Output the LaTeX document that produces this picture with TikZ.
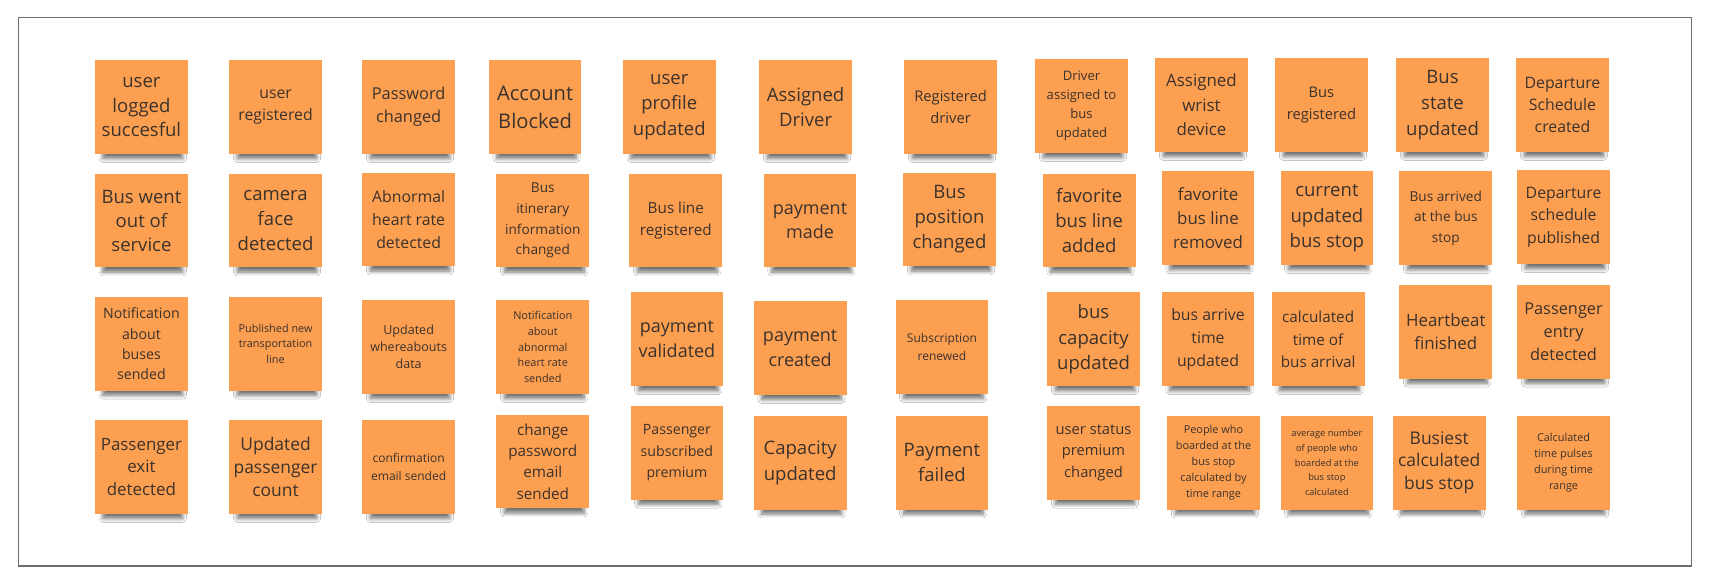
\documentclass[tikz,border=0pt]{standalone}
\usepackage{fontspec}
\setmainfont{Open Sans}
\usetikzlibrary{shadows.blur}
\definecolor{sticky}{RGB}{253,159,80}
\definecolor{stext}{RGB}{58,50,44}
\definecolor{framec}{RGB}{110,110,110}
\tikzset{
  note/.style={anchor=north west, fill=sticky, minimum width=85pt, minimum height=86pt,
    inner sep=1pt, align=center, text=stext,
    blur shadow={shadow xshift=1.5pt, shadow yshift=-12pt, shadow scale=0.86,
      shadow blur radius=4pt, shadow blur steps=8, shadow opacity=55}},
  fz/.style 2 args={font=\fontsize{#1}{#2}\selectfont},
}
\begin{document}
\begin{tikzpicture}[x=1pt,y=-1pt]
\fill[white] (0,0) rectangle (1568,536);
\useasboundingbox (0,0) rectangle (1568,536);
\draw[framec, line width=1.3pt] (17,16) rectangle (1551,519);
% Row 1
\node[note, fz={17}{22.5}] (n11) at (87,55) {user\\logged\\succesful};
\node[note, fz={14.5}{20}] (n12) at (210,55) {user\\registered};
\node[note, fz={15}{21}] (n13) at (332,55) {Password\\changed};
\node[note, fz={18.5}{26}] (n14) at (448,55) {Account\\Blocked};
\node[note, fz={17}{23}] (n15) at (571,55) {user\\profile\\updated};
\node[note, fz={17}{23}] (n16) at (696,55) {Assigned\\Driver};
\node[note, fz={13.5}{20}] (n17) at (829,55) {Registered\\driver};
\node[note, fz={12}{17.5}] (n18) at (949,54) {Driver\\assigned to\\bus\\updated};
\node[note, fz={15.5}{22.5}] (n19) at (1059,53) {Assigned\\wrist\\device};
\node[note, fz={13.5}{20}] (n110) at (1169,53) {Bus\\registered};
\node[note, fz={17}{24}] (n111) at (1280,53) {Bus\\state\\updated};
\node[note, fz={14.5}{20.5}] (n112) at (1390,53) {Departure\\Schedule\\created};
% Row 2
\node[note, fz={17}{22}] (n21) at (87,159) {Bus went\\out of\\service};
\node[note, fz={17}{22.5}] (n22) at (210,159) {camera\\face\\detected};
\node[note, fz={14.5}{21}] (n23) at (332,158) {Abnormal\\heart rate\\detected};
\node[note, fz={12.5}{19}] (n24) at (455,159) {Bus\\itinerary\\information\\changed};
\node[note, fz={14}{21}] (n25) at (577,159) {Bus line\\registered};
\node[note, fz={16.5}{21.5}] (n26) at (700,159) {payment\\made};
\node[note, fz={17}{23}] (n27) at (828,158) {Bus\\position\\changed};
\node[note, fz={17}{23}] (n28) at (956,159) {favorite\\bus line\\added};
\node[note, fz={15.5}{22}] (n29) at (1065,157) {favorite\\bus line\\removed};
\node[note, fz={17}{23.5}] (n210) at (1174,157) {current\\updated\\bus stop};
\node[note, fz={12.5}{19}] (n211) at (1283,157) {Bus arrived\\at the bus\\stop};
\node[note, fz={14.5}{20.5}] (n212) at (1391,156) {Departure\\schedule\\published};
% Row 3
\node[note, fz={13}{18.5}] (n31) at (87,272) {Notification\\about\\buses\\sended};
\node[note, fz={10}{14.5}] (n32) at (210,272) {Published new\\transportation\\line};
\node[note, fz={11.5}{15.5}] (n33) at (332,275) {Updated\\whereabouts\\data};
\node[note, fz={10}{14.5}] (n34) at (455,275) {Notification\\about\\abnormal\\heart rate\\sended};
\node[note, fz={16.5}{23}] (n35) at (578,268) {payment\\validated};
\node[note, fz={16.5}{23}] (n36) at (691,276) {payment\\created};
\node[note, fz={11}{17}] (n37) at (821,275) {Subscription\\renewed};
\node[note, fz={17}{23.5}] (n38) at (960,268) {bus\\capacity\\updated};
\node[note, fz={14.5}{21}] (n39) at (1065,268) {bus arrive\\time\\updated};
\node[note, fz={14}{20.5}] (n310) at (1166,268) {calculated\\time of\\bus arrival};
\node[note, fz={15.5}{21.5}] (n311) at (1283,261) {Heartbeat\\finished};
\node[note, fz={15}{21}] (n312) at (1391,261) {Passenger\\entry\\detected};
% Row 4
\node[note, fz={15.5}{21}] (n41) at (87,385) {Passenger\\exit\\detected};
\node[note, fz={16}{21}] (n42) at (210,385) {Updated\\passenger\\count};
\node[note, fz={11}{16.5}] (n43) at (332,385) {confirmation\\email sended};
\node[note, fz={14}{19.5}] (n44) at (455,380) {change\\password\\email\\sended};
\node[note, fz={13}{19.5}] (n45) at (578,372) {Passenger\\subscribed\\premium};
\node[note, fz={17}{24}] (n46) at (691,381) {Capacity\\updated};
\node[note, fz={17}{23.5}] (n47) at (821,381) {Payment\\failed};
\node[note, fz={13.5}{19.5}] (n48) at (960,372) {user status\\premium\\changed};
\node[note, fz={10}{14.5}] (n49) at (1070,381) {People who\\boarded at the\\bus stop\\calculated by\\time range};
\node[note, fz={8.5}{13.5}] (n410) at (1174,381) {average number\\of people who\\boarded at the\\bus stop\\calculated};
\node[note, fz={16}{21}] (n411) at (1277,381) {Busiest\\calculated\\bus stop};
\node[note, fz={10}{14.5}] (n412) at (1391,381) {Calculated\\time pulses\\during time\\range};
\end{tikzpicture}
\end{document}
